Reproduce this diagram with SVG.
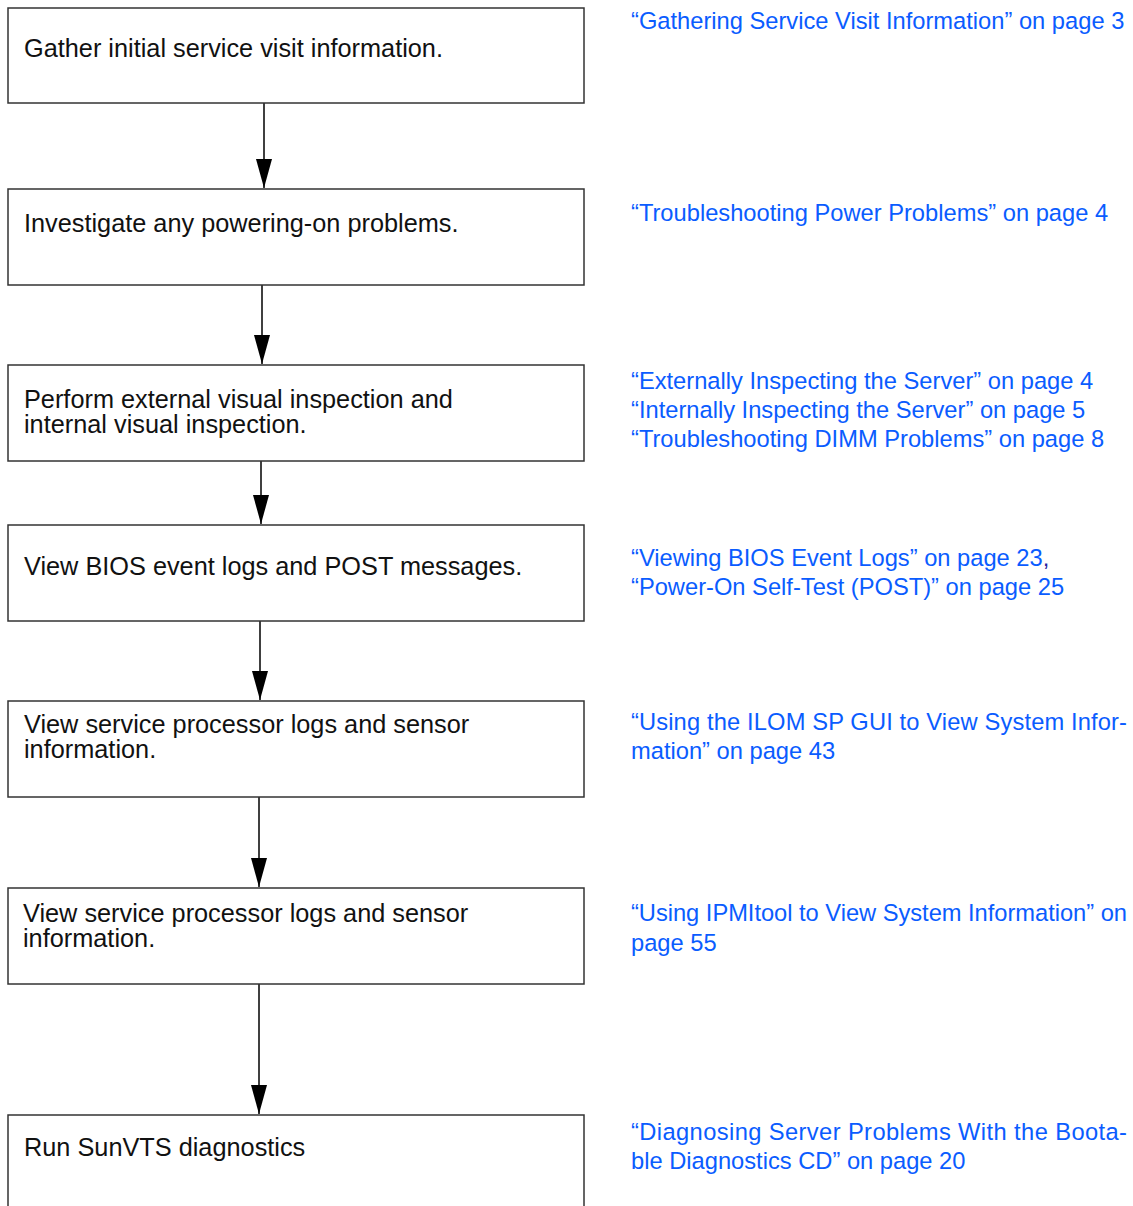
<svg xmlns="http://www.w3.org/2000/svg" width="1133" height="1206" viewBox="0 0 1133 1206">
<style>
.box{fill:#fff;stroke:#333;stroke-width:1.5}
.t{font-family:"Liberation Sans",Arial,sans-serif;font-size:25.3px;fill:#111}
.ref{font-family:"Liberation Sans",Arial,sans-serif;font-size:23.7px;fill:#0a5cff}
.conn{stroke:#000;stroke-width:1.5;fill:none;marker-end:url(#arr)}
</style>
<defs>
<marker id="arr" markerUnits="userSpaceOnUse" markerWidth="29" markerHeight="16" refX="29" refY="8" viewBox="0 0 29 16" orient="auto">
<path d="M0,0 L29,8 L0,16 Z" fill="#000"/>
</marker>
</defs>
<rect width="1133" height="1206" fill="#fff"/>
<g id="connectors">
<line class="conn" x1="264" y1="103" x2="264" y2="188"/>
<line class="conn" x1="262" y1="285" x2="262" y2="364"/>
<line class="conn" x1="261" y1="461" x2="261" y2="524"/>
<line class="conn" x1="260" y1="621" x2="260" y2="700"/>
<line class="conn" x1="259" y1="797" x2="259" y2="887"/>
<line class="conn" x1="259" y1="984" x2="259" y2="1114"/>
</g>
<g id="n1">
<rect class="box" x="8" y="8" width="576" height="95"/>
<text class="t" x="24" y="57">Gather initial service visit information.</text>
<text class="ref" x="631" y="29">“Gathering Service Visit Information” on page 3</text>
</g>
<g id="n2">
<rect class="box" x="8" y="189" width="576" height="96"/>
<text class="t" x="24" y="232">Investigate any powering-on problems.</text>
<text class="ref" x="631" y="221">“Troubleshooting Power Problems” on page 4</text>
</g>
<g id="n3">
<rect class="box" x="8" y="365" width="576" height="96"/>
<text class="t" x="24" y="408">Perform external visual inspection and</text>
<text class="t" x="24" y="433">internal visual inspection.</text>
<text class="ref" x="631" y="389">“Externally Inspecting the Server” on page 4</text>
<text class="ref" x="631" y="418">“Internally Inspecting the Server” on page 5</text>
<text class="ref" x="631" y="447">“Troubleshooting DIMM Problems” on page 8</text>
</g>
<g id="n4">
<rect class="box" x="8" y="525" width="576" height="96"/>
<text class="t" x="24" y="575">View BIOS event logs and POST messages.</text>
<text class="ref" x="631" y="566">“Viewing BIOS Event Logs” on page 23<tspan fill="#2a1fa0">,</tspan></text>
<text class="ref" x="631" y="595">“Power-On Self-Test (POST)” on page 25</text>
</g>
<g id="n5">
<rect class="box" x="8" y="701" width="576" height="96"/>
<text class="t" x="24" y="733">View service processor logs and sensor</text>
<text class="t" x="24" y="758">information.</text>
<text class="ref" x="631" y="730" textLength="496" lengthAdjust="spacing">“Using the ILOM SP GUI to View System Infor-</text>
<text class="ref" x="631" y="759">mation” on page 43</text>
</g>
<g id="n6">
<rect class="box" x="8" y="888" width="576" height="96"/>
<text class="t" x="23" y="922">View service processor logs and sensor</text>
<text class="t" x="23" y="947">information.</text>
<text class="ref" x="631" y="921" textLength="496" lengthAdjust="spacing">“Using IPMItool to View System Information” on</text>
<text class="ref" x="631" y="951">page 55</text>
</g>
<g id="n7">
<rect class="box" x="8" y="1115" width="576" height="100"/>
<text class="t" x="24" y="1156">Run SunVTS diagnostics</text>
<text class="ref" x="631" y="1140" textLength="496" lengthAdjust="spacing">“Diagnosing Server Problems With the Boota-</text>
<text class="ref" x="631" y="1169">ble Diagnostics CD” on page 20</text>
</g>
</svg>
